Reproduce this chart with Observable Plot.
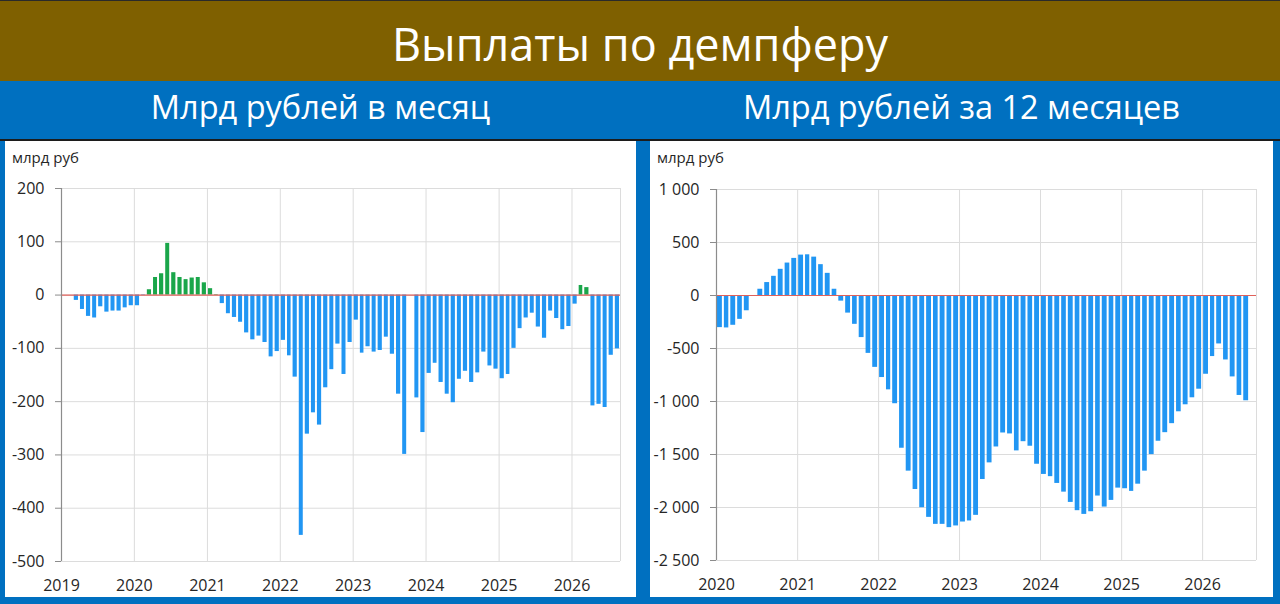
<!DOCTYPE html>
<html>
<head>
<meta charset="utf-8">
<script src="https://cdn.jsdelivr.net/npm/d3@7"></script>
<script src="https://cdn.jsdelivr.net/npm/@observablehq/plot@0.6"></script>
<style>
  html, body { margin: 0; padding: 0; }
  body { width: 1280px; height: 604px; overflow: hidden; background: #0070c0; position: relative; font-family: "Open Sans", "Noto Sans", sans-serif; }
  #hdr { position: absolute; left: 0; top: 0; width: 1280px; height: 81px; background: #7f6000; border-top: 1px solid #2a2a2a; box-sizing: border-box; color: #fff; font-size: 45px; text-align: center; line-height: 86px; }
  .sub { position: absolute; top: 81px; height: 58px; line-height: 52px; color: #fff; font-size: 32.5px; text-align: center; }
  #sep { position: absolute; left: 0; top: 139px; width: 1280px; height: 2px; background: #1c1c1c; }
  .panel { position: absolute; top: 141px; height: 456px; background: #fff; }
  .unit { position: absolute; left: 7px; top: 6px; font-size: 15px; color: #262626; z-index: 2; }
  .panel svg { position: absolute; left: 0; top: 0; }
</style>
</head>
<body>
<div id="hdr">Выплаты по демпферу</div>
<div class="sub" style="left:5px;width:631px;">Млрд рублей в месяц</div>
<div class="sub" style="left:650px;width:623px;">Млрд рублей за 12 месяцев</div>
<div id="sep"></div>
<div class="panel" id="pL" style="left:5px;width:631px;"><div class="unit">млрд руб</div></div>
<div class="panel" id="pR" style="left:650px;width:623px;"><div class="unit">млрд руб</div></div>
<script>
// ---- Data ----
// Monthly damper payments, bn RUB, starting March 2019
const monthlyStart = "2019-03-01";
const monthlyValues = [
  -10, -27, -40, -43, -22, -32, -30, -30, -24, -20,               // 2019 Mar-Dec
  -20, -1, 10, 33, 40, 97, 42, 33, 29, 32, 33, 23,               // 2020
  12, 1, -16, -35, -42, -51, -71, -84, -77, -89, -116, -106,     // 2021
  -85, -114, -154, -451, -261, -221, -244, -174, -140, -92, -149, -89, // 2022
  -47, -109, -97, -107, -104, -79, -111, -186, -299, 0, -193, -258,   // 2023
  -147, -128, -164, -186, -202, -158, -143, -164, -146, -107, -133, -139, // 2024
  -157, -149, -100, -63, -43, -34, -60, -81, -30, -44, -65, -59,  // 2025
  -17, 18, 14, -208, -205, -211, -113, -101                       // 2026 Jan-Aug
];
// Rolling 12-month sum, bn RUB, starting January 2020
const rollingStart = "2020-01-01";
const rollingValues = [
  -303, -306, -281, -225, -144, 0, 59, 122, 181, 247, 306, 350,          // 2020
  381, 384, 362, 291, 209, 59, -53, -166, -272, -397, -546, -678,        // 2021
  -774, -890, -1021, -1441, -1657, -1830, -2002, -2093, -2159, -2159, -2190, -2174, // 2022
  -2137, -2127, -2074, -1736, -1579, -1429, -1297, -1306, -1466, -1379, -1422, -1592, // 2023
  -1688, -1709, -1773, -1855, -1952, -2030, -2065, -2040, -1892, -1996, -1933, -1817, // 2024
  -1823, -1848, -1780, -1657, -1501, -1375, -1294, -1209, -1097, -1031, -965, -884,   // 2025
  -743, -576, -457, -608, -768, -943, -993                                // 2026 Jan-Jul
];
const yearsLeft = [2019, 2020, 2021, 2022, 2023, 2024, 2025, 2026];
const yearsRight = [2020, 2021, 2022, 2023, 2024, 2025, 2026];
const yTicksLeft = [200, 100, 0, -100, -200, -300, -400, -500];
const yTicksRight = [1000, 500, 0, -500, -1000, -1500, -2000, -2500];
const axisEnd = "2026-09-01";

// ---- Build tables ----
function toRows(start, values) {
  const s = new Date(start + "T00:00:00Z");
  return values.map((v, i) => ({
    start: d3.utcMonth.offset(s, i),
    end: d3.utcMonth.offset(s, i + 1),
    value: v
  }));
}
const rowsL = toRows(monthlyStart, monthlyValues);
const rowsR = toRows(rollingStart, rollingValues);
const yearDate = y => new Date(Date.UTC(y, 0, 1));
const endDate = new Date(axisEnd + "T00:00:00Z");

const BLUE = "#2196f3", GREEN = "#1aa64a", GRID = "#dcdcdc", AXIS = "#8c8c8c", ZERO = "#e0605a";
const fmtThousands = d3.formatLocale({decimal: ".", thousands: "\u00a0", grouping: [3], currency: ["", ""], minus: "-"}).format(",");

function chart({rows, years, yTicks, yDomain, width, marginLeft, marginRight, marginTop, marginBottom, tickFormat, inset, fill}) {
  const xStart = yearDate(years[0]);
  return Plot.plot({
    width, height: 456, marginLeft, marginRight, marginTop, marginBottom,
    style: {fontFamily: "'Open Sans', 'Noto Sans', sans-serif", fontSize: "16px", color: "#262626", background: "transparent", overflow: "visible"},
    x: {type: "utc", domain: [xStart, endDate]},
    y: {domain: yDomain},
    marks: [
      Plot.ruleY(yTicks, {stroke: GRID, strokeWidth: 1}),
      Plot.ruleX(years.slice(1).map(yearDate).concat([endDate]), {stroke: GRID, strokeWidth: 1}),
      Plot.rect(rows, {x1: "start", x2: "end", y1: () => 0, y2: "value", fill, insetLeft: inset, insetRight: inset}),
      Plot.ruleY([0], {stroke: ZERO, strokeWidth: 1.2}),
      Plot.ruleX([xStart], {stroke: AXIS, strokeWidth: 1.2}),
      Plot.axisY({ticks: yTicks, tickSize: 6, tickPadding: 11, stroke: AXIS, tickFormat, fill: "#262626", label: null}),
      Plot.axisX({ticks: years.map(yearDate), tickSize: 0, tickPadding: 18, tickFormat: d => String(d.getUTCFullYear()), fill: "#262626", label: null})
    ]
  });
}

document.getElementById("pL").appendChild(chart({
  rows: rowsL, years: yearsLeft, yTicks: yTicksLeft, yDomain: [-500, 200],
  width: 631, marginLeft: 56, marginRight: 16, marginTop: 47, marginBottom: 36,
  tickFormat: d => String(d), inset: 1, fill: d => d.value >= 0 ? GREEN : BLUE
}));
document.getElementById("pR").appendChild(chart({
  rows: rowsR, years: yearsRight, yTicks: yTicksRight, yDomain: [-2500, 1000],
  width: 623, marginLeft: 66, marginRight: 17, marginTop: 48, marginBottom: 37,
  tickFormat: d => fmtThousands(d), inset: 1, fill: BLUE
}));
</script>
</body>
</html>
